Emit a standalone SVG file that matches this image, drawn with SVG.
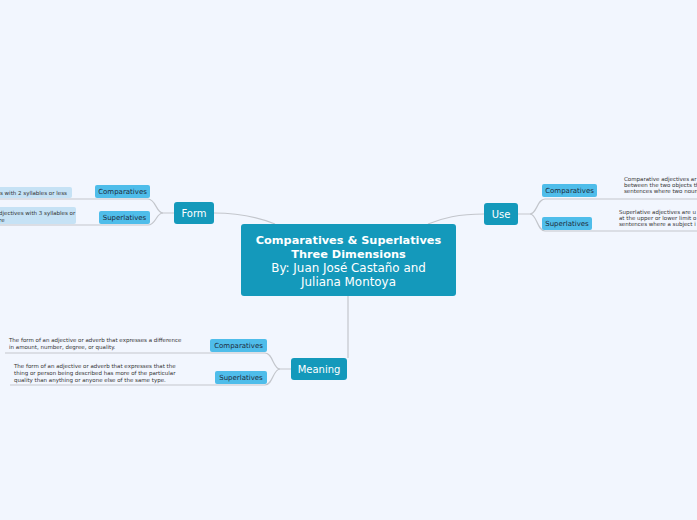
<svg xmlns="http://www.w3.org/2000/svg" width="697" height="520" viewBox="0 0 697 520">
<style>
.bg{fill:#f2f6fe}
.main{fill:#1499bb}
.sub{fill:#4fbdea}
.leafbox{fill:#c6e2f5}
.conn{fill:none;stroke:#c3c6cc;stroke-width:1.2}
.t{font-family:"DejaVu Sans",Verdana,sans-serif}
.wb{fill:#fff;font-size:11.3px;font-weight:bold;text-anchor:middle}
.wn{fill:#fff;font-size:11.9px;text-anchor:middle}
.mt{fill:#fff;font-size:10px;text-anchor:middle}
.st{fill:#1d2b3a;font-size:7px;text-anchor:middle}
.lt{fill:#333;font-size:5.5px}
</style>
<rect class="bg" x="0" y="0" width="697" height="520"/>
<g id="connectors">
<path class="conn" d="M214,213 C242,213 260,218 275,224"/>
<path class="conn" d="M484,214 C458,214 443,218 428,224"/>
<path class="conn" d="M348,296 L348,358"/>
<path class="conn" d="M174,213 L163,213 C156,213 156,199 148,199 L0,199"/>
<path class="conn" d="M163,213 C156,213 156,225 148,225 L0,225"/>
<path class="conn" d="M518,214 L530,214 C537,214 537,199 545,199 L697,199"/>
<path class="conn" d="M530,214 C537,214 537,231 545,231 L697,231"/>
<path class="conn" d="M291,369 L280,369 C273,369 273,353 265,353 L5,353"/>
<path class="conn" d="M280,369 C273,369 273,385 265,385 L10,385"/>
</g>
<g id="central">
<rect class="main" x="241" y="224" width="215" height="72" rx="3"/>
<text class="t wb" x="348.5" y="244">Comparatives &amp; Superlatives</text>
<text class="t wb" x="348.5" y="258">Three Dimensions</text>
<text class="t wn" x="348.5" y="272">By: Juan José Castaño and</text>
<text class="t wn" x="348.5" y="286">Juliana Montoya</text>
</g>
<g id="form">
<rect class="main" x="174" y="202" width="40" height="22" rx="3"/>
<text class="t mt" x="194" y="217">Form</text>
</g>
<g id="use">
<rect class="main" x="484" y="203" width="34" height="22" rx="3"/>
<text class="t mt" x="501" y="218">Use</text>
</g>
<g id="meaning">
<rect class="main" x="291" y="358" width="56" height="22" rx="3"/>
<text class="t mt" x="319" y="373">Meaning</text>
</g>
<g id="form-comparatives">
<rect class="sub" x="95" y="185" width="55" height="13" rx="2"/>
<text class="t st" x="122.5" y="194">Comparatives</text>
</g>
<g id="form-superlatives">
<rect class="sub" x="99" y="211" width="51" height="13" rx="2"/>
<text class="t st" x="124.5" y="220">Superlatives</text>
</g>
<g id="form-comparatives-leaf">
<rect class="leafbox" x="-4" y="187" width="76" height="11" rx="2"/>
<text class="t lt" x="0" y="195">s with 2 syllables or less</text>
</g>
<g id="form-superlatives-leaf">
<rect class="leafbox" x="-4" y="207" width="80" height="17" rx="2"/>
<text class="t lt" x="-1" y="215">djectives with 3 syllables or</text>
<text class="t lt" x="-1" y="221.5">re</text>
</g>
<g id="use-comparatives">
<rect class="sub" x="542" y="184" width="55" height="13" rx="2"/>
<text class="t st" x="569.5" y="193">Comparatives</text>
</g>
<g id="use-superlatives">
<rect class="sub" x="542" y="217" width="50" height="13" rx="2"/>
<text class="t st" x="567" y="226">Superlatives</text>
</g>
<g id="use-comparatives-leaf">
<text class="t lt" x="624" y="181">Comparative adjectives ar</text>
<text class="t lt" x="624" y="187">between the two objects th</text>
<text class="t lt" x="624" y="193">sentences where two noun</text>
</g>
<g id="use-superlatives-leaf">
<text class="t lt" x="619" y="214">Superlative adjectives are u</text>
<text class="t lt" x="619" y="220">at the upper or lower limit o</text>
<text class="t lt" x="619" y="226">sentences where a subject i</text>
</g>
<g id="meaning-comparatives">
<rect class="sub" x="210" y="339" width="57" height="13" rx="2"/>
<text class="t st" x="238.5" y="348">Comparatives</text>
</g>
<g id="meaning-superlatives">
<rect class="sub" x="215" y="371" width="52" height="13" rx="2"/>
<text class="t st" x="241" y="380">Superlatives</text>
</g>
<g id="meaning-comparatives-leaf">
<text class="t lt" x="9" y="342">The form of an adjective or adverb that expresses a difference</text>
<text class="t lt" x="9" y="349">in amount, number, degree, or quality.</text>
</g>
<g id="meaning-superlatives-leaf">
<text class="t lt" x="14" y="368">The form of an adjective or adverb that expresses that the</text>
<text class="t lt" x="14" y="375">thing or person being described has more of the particular</text>
<text class="t lt" x="14" y="382">quality than anything or anyone else of the same type.</text>
</g>
</svg>
